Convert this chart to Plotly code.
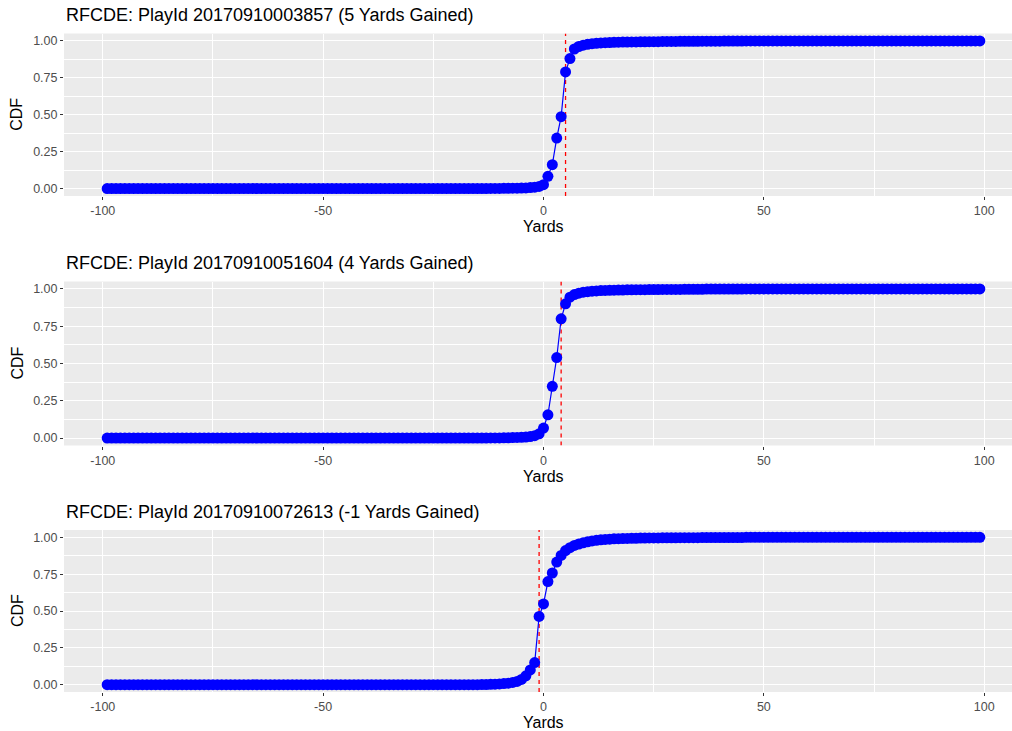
import plotly.graph_objects as go

# ---- data -------------------------------------------------------------
YARDS = list(range(-99, 100))

PLAY_IDS = ["20170910003857", "20170910051604", "20170910072613"]
YARDS_GAINED = [5, 4, -1]

# Predicted CDF around the transition; START gives the yard of the first value.
# Below START the CDF is 0, past the last listed value it is 1.
CDF_START = [-15, -15, -15]

CDF_PLAY_1 = [
    0.000, 0.000, 0.000, 0.001, 0.001, 0.001,                      # -15..-10
    0.002, 0.002, 0.003, 0.003, 0.004, 0.005, 0.007, 0.010, 0.015,  # -9..-1
    0.027, 0.083, 0.162, 0.342, 0.487, 0.790, 0.880, 0.945, 0.962,  # 0..8
    0.971, 0.977, 0.981, 0.984, 0.986, 0.988, 0.989, 0.990, 0.991,  # 9..17
    0.992, 0.992, 0.993, 0.993, 0.994, 0.994, 0.995, 0.995, 0.995,  # 18..26
    0.996, 0.996, 0.996, 0.996, 0.997, 0.997, 0.997, 0.997, 0.997,  # 27..35
    0.998, 0.998, 0.998, 0.998, 0.998, 0.999, 0.999, 0.999, 0.999,  # 36..44
    0.999,                                                          # 45
]

CDF_PLAY_2 = [
    0.000, 0.000, 0.000, 0.001, 0.001, 0.001,                      # -15..-10
    0.002, 0.002, 0.003, 0.004, 0.005, 0.007, 0.010, 0.016, 0.028,  # -9..-1
    0.067, 0.156, 0.347, 0.540, 0.800, 0.900, 0.945, 0.962, 0.972,  # 0..8
    0.978, 0.982, 0.985, 0.987, 0.989, 0.990, 0.991, 0.992, 0.993,  # 9..17
    0.993, 0.994, 0.994, 0.995, 0.995, 0.995, 0.996, 0.996, 0.996,  # 18..26
    0.997, 0.997, 0.997, 0.997, 0.997, 0.998, 0.998, 0.998, 0.998,  # 27..35
    0.998, 0.999, 0.999, 0.999, 0.999, 0.999, 0.999, 0.999, 0.999,  # 36..44
    0.999,                                                          # 45
]

CDF_PLAY_3 = [
    0.000, 0.001, 0.001, 0.002, 0.003, 0.005,                      # -15..-10
    0.007, 0.010, 0.015, 0.022, 0.035, 0.060, 0.100, 0.150, 0.463,  # -9..-1
    0.548, 0.700, 0.758, 0.832, 0.877, 0.910, 0.930, 0.945, 0.955,  # 0..8
    0.963, 0.970, 0.976, 0.980, 0.983, 0.986, 0.988, 0.990, 0.991,  # 9..17
    0.992, 0.993, 0.994, 0.994, 0.995, 0.995, 0.996, 0.996, 0.996,  # 18..26
    0.997, 0.997, 0.997, 0.997, 0.998, 0.998, 0.998, 0.998, 0.998,  # 27..35
    0.999, 0.999, 0.999, 0.999, 0.999, 0.999, 0.999, 0.999, 0.999,  # 36..44
    0.999,                                                          # 45
]

CDF_VALUES = [CDF_PLAY_1, CDF_PLAY_2, CDF_PLAY_3]

X_TICKS = [-100, -50, 0, 50, 100]
Y_TICKS = [0.0, 0.25, 0.5, 0.75, 1.0]
Y_TICK_TEXT = ["0.00", "0.25", "0.50", "0.75", "1.00"]


def full_cdf(start, values):
    out = []
    for yd in YARDS:
        i = yd - start
        if i < 0:
            out.append(0.0)
        elif i < len(values):
            out.append(values[i])
        else:
            out.append(1.0)
    return out


# ---- layout geometry (pixels) -----------------------------------------
W, H = 1012, 731
LEFT = 64
PANELS = [(33.5, 196.0), (281.5, 445.5), (530.0, 692.0)]   # top, bottom
X_RANGE = [-108.8, 106.3]
Y_RANGE = [-0.05, 1.05]
FONT = "Liberation Sans, Arial, sans-serif"


def px_x(p):
    return (p - LEFT) / (W - LEFT)


def px_y(p):
    return (H - p) / H


fig = go.Figure()
annotations = []

for k in range(3):
    xa = "x" if k == 0 else f"x{k + 1}"
    ya = "y" if k == 0 else f"y{k + 1}"
    cdf = full_cdf(CDF_START[k], CDF_VALUES[k])

    # true outcome, drawn first so the points sit on top of it
    fig.add_trace(go.Scatter(
        x=[YARDS_GAINED[k], YARDS_GAINED[k]], y=Y_RANGE,
        mode="lines", line=dict(color="#FF0000", width=1.3, dash="4px,4px"),
        xaxis=xa, yaxis=ya, showlegend=False, hoverinfo="skip",
    ))
    fig.add_trace(go.Scatter(
        x=YARDS, y=cdf, mode="lines+markers",
        line=dict(color="#0000FF", width=1.2),
        marker=dict(color="#0000FF", size=11),
        xaxis=xa, yaxis=ya, showlegend=False,
    ))

    top, bot = PANELS[k]
    axis_common = dict(
        showline=False, zeroline=False, ticks="outside", ticklen=3,
        tickwidth=1, tickcolor="#333333", gridcolor="#FFFFFF", gridwidth=1.1,
        tickfont=dict(family=FONT, size=12.5, color="#4D4D4D"), automargin=False,
    )
    fig.layout[("xaxis" if k == 0 else f"xaxis{k + 1}")] = dict(
        axis_common, domain=[0, 1], range=X_RANGE, anchor=ya,
        tickvals=X_TICKS, ticktext=[str(v) for v in X_TICKS],
        minor=dict(dtick=25, tick0=0, showgrid=True, gridcolor="#FFFFFF",
                   gridwidth=0.5),
    )
    fig.layout[("yaxis" if k == 0 else f"yaxis{k + 1}")] = dict(
        axis_common, domain=[px_y(bot), px_y(top)], range=Y_RANGE, anchor=xa,
        tickvals=Y_TICKS, ticktext=Y_TICK_TEXT,
        minor=dict(dtick=0.125, tick0=0, showgrid=True, gridcolor="#FFFFFF",
                   gridwidth=0.5),
    )

    annotations.append(dict(
        text=f"RFCDE: PlayId {PLAY_IDS[k]} ({YARDS_GAINED[k]} Yards Gained)",
        x=px_x(64), y=px_y(top - 18.5), xref="paper", yref="paper",
        xanchor="left", yanchor="middle", showarrow=False,
        font=dict(family=FONT, size=18, color="#000000"),
    ))
    annotations.append(dict(
        text="Yards", x=px_x(543.5), y=px_y(bot + 30.5), xref="paper",
        yref="paper", xanchor="center", yanchor="middle", showarrow=False,
        font=dict(family=FONT, size=16, color="#000000"),
    ))
    annotations.append(dict(
        text="CDF", x=px_x(17), y=px_y((top + bot) / 2), xref="paper",
        yref="paper", xanchor="center", yanchor="middle", showarrow=False,
        textangle=-90, font=dict(family=FONT, size=16, color="#000000"),
    ))

fig.update_layout(
    width=W, height=H,
    margin=dict(l=LEFT, r=0, t=0, b=0, pad=0),
    paper_bgcolor="#FFFFFF", plot_bgcolor="#EBEBEB",
    annotations=annotations, showlegend=False,
)

fig.write_html("out.html")
